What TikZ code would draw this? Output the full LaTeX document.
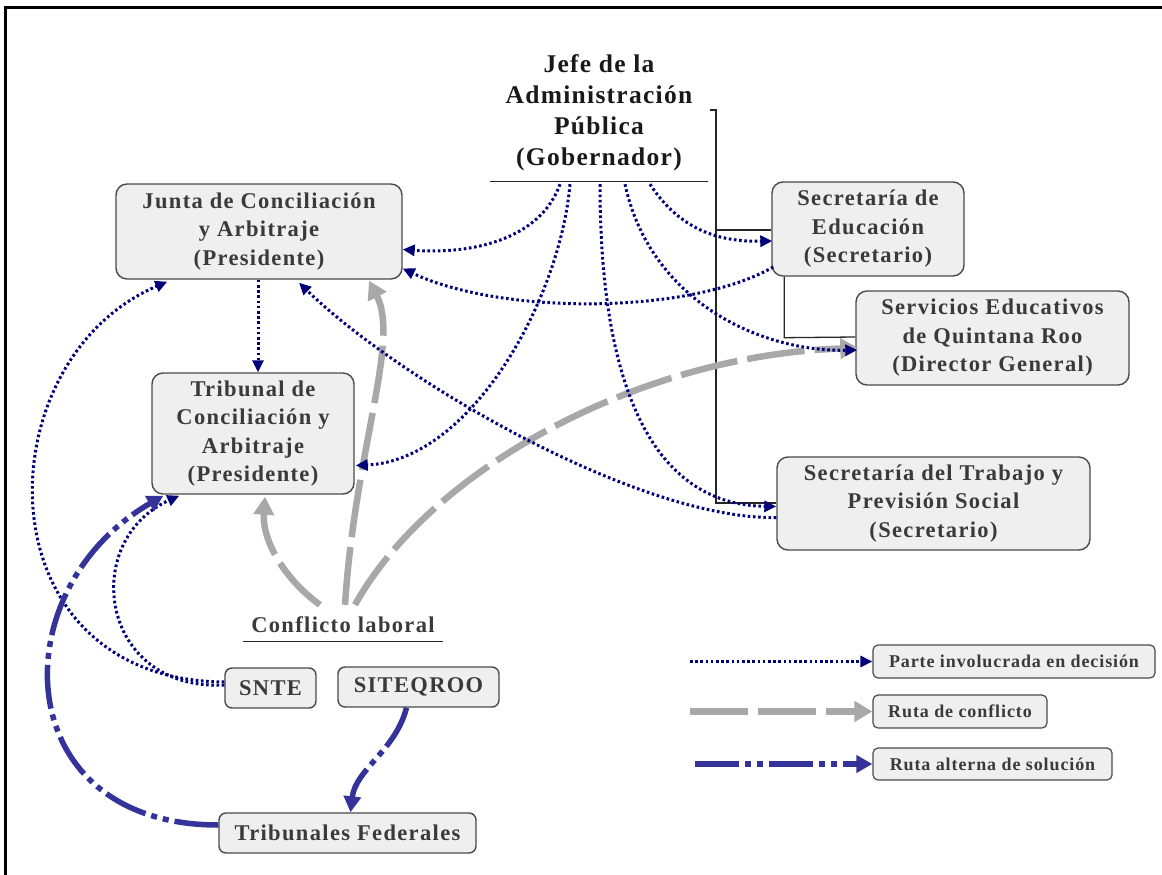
\documentclass[tikz,border=0pt]{standalone}
\usepackage{fontspec}
\setmainfont{Liberation Serif}
\usetikzlibrary{arrows.meta,calc}
\definecolor{boxfill}{HTML}{EFEFEF}
\definecolor{boxdraw}{HTML}{4A4A4A}
\definecolor{boxtext}{HTML}{3A3A3A}
\definecolor{navyline}{HTML}{00007A}
\definecolor{grayline}{HTML}{A8A8A8}
\definecolor{blueline}{HTML}{333399}
\newcommand{\boxfont}{\bfseries\fontsize{22.5}{28.5}\selectfont\addfontfeatures{LetterSpace=6}}
\begin{document}
\begin{tikzpicture}[x=1pt,y=-1pt,
  orgbox/.style={draw=boxdraw,line width=1.4pt,fill=boxfill,rounded corners=11pt,
    align=center,inner sep=0pt,text=boxtext,font=\boxfont},
  smallbox/.style={orgbox,rounded corners=7pt},
  legbox/.style={draw=boxdraw,line width=1.2pt,fill=boxfill,rounded corners=5pt,
    align=center,inner sep=0pt,text=boxtext,
    font=\bfseries\fontsize{18}{20}\selectfont\addfontfeatures{LetterSpace=5}},
  thinline/.style={line width=1.3pt,draw=black!85},
  decision/.style={draw=navyline,line width=3pt,dash pattern=on 2.6pt off 2.6pt,
    -{Triangle[length=12pt,width=11pt]}},
  conflict/.style={draw=grayline,line width=6.5pt,dash pattern=on 58pt off 10pt,
    -{Triangle[length=18pt,width=20pt]}},
  alternate/.style={draw=blueline,line width=5.5pt,
    dash pattern=on 44pt off 6pt on 6pt off 6pt on 6pt off 6pt,
    -{Triangle[length=16pt,width=17pt]}}]
\useasboundingbox (0,0) rectangle (1162,875);
% frame
\draw[line width=3pt,black] (5,875) -- (5,8) -- (1162,8);

% nodes
\node[align=center,inner sep=0pt,minimum width=218pt,minimum height=136pt,
  font=\bfseries\fontsize{25.5}{31}\selectfont\addfontfeatures{LetterSpace=5},text=black!90] (jefe) at (599,113)
  {Jefe de la\\Administración\\Pública\\(Gobernador)};
\draw[thinline] (jefe.south west) -- (jefe.south east);

\node[orgbox,minimum width=286pt,minimum height=95pt] (junta) at (259,231.5)
  {Junta de Conciliación\\y Arbitraje\\(Presidente)};
\node[orgbox,minimum width=202pt,minimum height=121pt] (tribunal) at (253,433.5)
  {Tribunal de\\Conciliación y\\Arbitraje\\(Presidente)};
\node[orgbox,minimum width=192pt,minimum height=94pt] (se) at (868,229)
  {Secretaría de\\Educación\\(Secretario)};
\node[orgbox,minimum width=273pt,minimum height=94pt] (seqr) at (992.5,338)
  {Servicios Educativos\\de Quintana Roo\\(Director General)};
\node[orgbox,minimum width=313pt,minimum height=93pt] (stps) at (933.5,503.5)
  {Secretaría del Trabajo y\\Previsión Social\\(Secretario)};
\node[smallbox,minimum width=91pt,minimum height=40pt] (snte) at (270.5,688) {SNTE};
\node[smallbox,minimum width=161pt,minimum height=40pt] (siteqroo) at (418.5,687) {SITEQROO};
\node[smallbox,minimum width=257pt,minimum height=40pt] (tf) at (347.5,833) {Tribunales Federales};

\node[align=center,inner sep=0pt,minimum width=200pt,minimum height=32pt,
  font=\boxfont,text=boxtext] (conflicto) at (343,625)
  {Conflicto laboral};
\draw[thinline] (conflicto.south west) -- (conflicto.south east);

% legend
\node[legbox,minimum width=282pt,minimum height=33pt] (leg1) at (1014,661.5) {Parte involucrada en decisión};
\node[legbox,minimum width=174pt,minimum height=33pt] (leg2) at (960,711.5) {Ruta de conflicto};
\node[legbox,minimum width=239pt,minimum height=32pt] (leg3) at (992.5,764) {Ruta alterna de solución};
\coordinate (l1) at (690,661.5);
\coordinate (l2) at (690,711.5);
\coordinate (l3) at (695,764);
\draw[decision] (l1) -- (leg1.west);
\draw[conflict] (l2) -- (leg2.west);
\draw[alternate] (l3) -- (leg3.west);

% hierarchy bracket
\coordinate (br) at (710,110);
\draw[thinline] (br) -- ++(6,0) -- (716,503) -- (stps.west |- 0,503);
\draw[thinline] (716,230) -- (se.west |- 0,230);
\draw[thinline] ($(se.south west)+(13,0)$) -- ($(se.south west)+(13,61)$) -- (seqr.west |- 0,337);

% gray conflict routes
\draw[conflict] ($(conflicto.north)+(-23,-4)$) .. controls +(-35,-25) and +(-3,44) .. ($(tribunal.south)+(12,2)$);
\draw[conflict] ($(conflicto.north)+(2,-4)$) .. controls +(10,-155) and +(31,60) .. ($(junta.south)+(110,1)$);
\draw[conflict] ($(conflicto.north)+(12,-4)$) .. controls +(75,-135) and +(-219,7) .. ($(seqr.west)+(3,10)$);

% decision (dotted)
\draw[decision] ($(jefe.south)+(-39,3)$) .. controls +(-20,56) and +(68,5) .. ($(junta.east)+(0,18)$);
\draw[decision] ($(jefe.south)+(-29,3)$) .. controls +(-10,116) and +(115,-5) .. ($(tribunal.east)+(1,32)$);
\draw[decision] ($(jefe.south)+(1,3)$) .. controls +(0,196) and +(-127,-2) .. ($(stps.west)+(0,3)$);
\draw[decision] ($(jefe.south)+(26,3)$) .. controls +(25,116) and +(-98,2) .. ($(seqr.west)+(2,12)$);
\draw[decision] ($(jefe.south)+(51,3)$) .. controls +(30,46) and +(-53,1) .. ($(se.west)+(1,12)$);
\draw[decision] ($(se.west)+(2,38)$) .. controls +(-84,48) and +(98,46.5) .. ($(junta.east)+(0,37)$);
\draw[decision] ($(junta.south)+(-1,0)$) -- ($(tribunal.north)+(5,0)$);
\draw[decision] ($(stps.west)+(0,14)$) .. controls +(-137,2.5) and +(101,98) .. ($(junta.south)+(40,3)$);
\draw[decision] ($(snte.west)+(0,-6)$) .. controls +(-245,-2) and +(-185,79) .. ($(junta.south west)+(52,2)$);
\draw[decision] ($(snte.west)+(0,-3)$) .. controls +(-125,6) and +(-100,45) .. ($(tribunal.south west)+(28,1)$);

% alternate routes
\draw[alternate] ($(tf.west)+(0,-8)$) .. controls +(-210,0) and +(-164,95) .. ($(tribunal.south west)+(12,1)$);
\draw[alternate] ($(siteqroo.south)+(-12,0)$) .. controls +(-11,43) and +(5,-43) .. ($(tf.north)+(3,0)$);
\end{tikzpicture}
\end{document}
